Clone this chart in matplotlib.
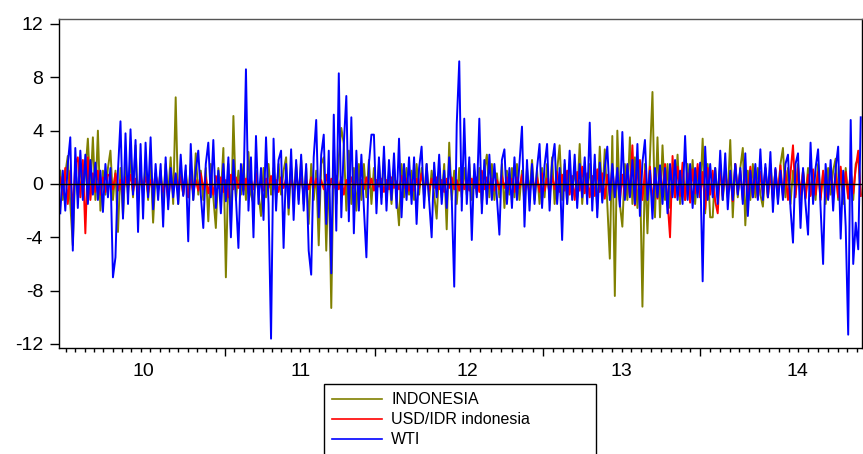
import numpy as np
import matplotlib.pyplot as plt
from matplotlib.lines import Line2D
from matplotlib.patches import Rectangle

plt.rcParams['font.family'] = ['Liberation Sans', 'DejaVu Sans']
plt.rcParams['axes.unicode_minus'] = False

indonesia = [
    1.0, -1.2, 0.8, 2.1, -1.5, -4.6, 1.2, -0.8, 1.5, -1.0, 0.9, 3.4, -0.6, 3.5, -1.2, 4.0, -2.0, 1.0, -0.8, 1.2,
    2.5, -1.2, 1.0, -3.6, 1.2, -2.4, 1.5, -0.8, 2.0, -1.0, 2.9, -1.5, 1.0, -0.8, 1.5, -1.2, 1.8, -2.9, 0.8, -0.5,
    1.0, -1.2, 1.5, -0.8, 2.0, -1.5, 6.5, -1.5, 1.2, -0.8, 1.0, -1.0, 1.5, -1.2, 2.3, -0.8, 1.0, -1.2, 1.2, -2.8,
    1.5, -1.0, -3.3, 1.2, -0.8, 2.7, -7.0, 1.5, -3.4, 5.1, -1.2, 1.0, -0.8, 1.5, -1.2, 2.4, -0.8, -1.5, 1.0, -0.8,
    -2.4, 1.2, -1.0, 1.5, -0.8, 1.2, -1.0, 1.5, -0.8, 1.0, 2.0, -2.3, 1.2, -1.0, 1.5, -1.2, 1.8, -1.5, 1.2, -3.0,
    1.5, -1.2, 1.0, -4.6, 1.5, 2.0, -5.0, 1.2, -9.3, 2.5, -1.5, 2.0, 4.2, 3.0, -2.0, 2.5, -1.5, 1.2, -2.0, 1.5,
    -1.2, 1.5, -1.0, 1.8, -1.5, 1.2, -0.8, 1.5, -1.0, 2.0, -1.2, 1.0, -1.5, 1.2, -0.8, -3.1, 1.5, -1.0, 1.2, -0.8,
    1.0, -1.2, 1.5, -0.8, 1.2, -1.0, 1.5, -1.2, 1.0, -0.8, -2.6, 1.2, -1.0, 1.5, -3.4, 3.1, -1.2, 1.0, -1.5, 1.2,
    -1.0, 1.2, -0.8, 1.5, -1.2, 1.0, -0.8, 1.2, -1.5, 1.0, 2.2, -1.0, 1.5, -1.2, 0.8, -1.0, 1.5, -1.8, 1.0, -0.8,
    1.2, -1.0, 1.5, -1.2, 1.0, -1.5, 1.2, -0.8, 1.8, -1.2, 1.0, -1.5, 1.2, -1.0, 1.5, -1.2, 2.0, -1.5, 1.0, 2.9,
    -1.2, 1.5, -1.5, 1.0, -0.8, 1.2, -1.0, 3.0, -1.5, 1.2, -1.0, 1.5, -1.2, 1.5, -1.9, 2.8, -1.2, 2.6, -1.5, -5.6,
    3.6, -8.4, 4.0, -1.5, -3.2, 1.5, -1.2, 3.5, -1.5, 2.0, -1.8, 1.2, -9.2, 1.5, -3.7, 2.0, 6.9, -2.5, 3.5, -2.5,
    2.9, -1.2, 1.5, -1.8, 1.2, -1.0, 2.2, -1.5, 1.0, -1.2, 1.5, -1.0, 1.8, -1.5, 1.2, -1.0, 3.4, -2.2, 1.5, -2.5,
    -2.5, 1.2, -1.0, 1.5, -1.2, 1.0, -0.8, 3.3, -2.5, 1.5, -1.0, 1.2, 2.7, -3.1, 1.0, -1.2, 1.5, -1.0, 1.2, -0.8,
    -1.7, 1.2, -1.0, 1.5, -0.8, 1.0, -1.2, 1.5, 2.7, -1.0, 1.2, -1.5, 1.0, -0.8, 1.5, -1.2, 1.0, -1.0, 1.2, -0.8,
    1.0, -1.2, 1.5, -1.0, 0.8, -1.5, 1.2, -0.8, 1.0, 1.9, -1.2, 1.0, -1.5, 1.2, -1.0, 0.8, -1.2, 1.5, 1.9, -0.8,
]

usd_idr = [
    0.5, -0.8, 1.2, -1.5, 1.0, -2.1, 1.5, 2.0, -1.0, 1.8, -3.7, 2.0, -1.2, 0.8, -0.6, 1.0, -0.8, 0.5, -0.6, 0.7,
    0.6, -0.4, 0.8, -0.5, 0.3, -0.9, 0.5, -0.3, 0.7, -0.6, 0.4, -0.8, 0.6, -0.2, 0.5, -0.7, 0.3, -0.5, 0.8, -0.4,
    0.5, -0.6, 0.3, -1.2, 0.4, -0.5, 0.7, -0.3, 0.5, -0.8, 0.6, -1.0, 0.4, -0.6, 0.3, -0.5, 0.8, -0.4, 0.5, -0.7,
    0.4, -0.8, 0.6, -0.3, 0.5, -0.6, 0.3, -1.0, 0.7, -0.4, 0.5, -0.3, 0.6, -0.5, 0.4, -0.7, 0.3, -0.4, 0.8, -0.6,
    0.3, -0.5, 0.4, -0.3, 0.6, -0.4, 0.3, -0.6, 0.5, -0.3, 0.4, -0.5, 0.3, -0.4, 0.6, -0.3, 0.4, -0.7, 0.3, -0.4,
    0.5, -0.3, 0.4, -0.6, 0.3, -0.4, 0.7, -0.5, 0.4, -0.3, 0.6, -0.4, 0.5, -0.8, 0.3, -0.4, 0.5, -0.3, 0.4, -0.5,
    0.3, -0.4, 0.5, -0.3, 0.4, -0.5, 0.3, -0.2, 0.4, -0.6, 0.3, -0.4, 0.5, -0.3, 0.2, -0.4, 0.6, -0.3, 0.4, -0.5,
    0.3, -0.5, 0.4, -0.3, 0.8, -0.4, 0.3, -0.5, 0.4, -0.3, 0.5, -0.4, 0.3, -0.6, 0.4, -0.3, 0.5, -0.4, 0.3, -0.5,
    0.6, -0.4, 0.3, -0.5, 0.4, -0.3, 0.5, -0.6, 1.0, -0.4, 0.5, -0.3, 0.4, -0.5, 0.3, -0.4, 0.6, -0.3, 0.5, -0.4,
    0.4, -0.6, 0.5, -0.3, 0.7, -0.5, 0.4, -0.8, 0.6, -0.4, 0.5, -0.6, 0.8, -0.5, 0.4, -0.7, 0.6, -0.4, 0.9, -0.6,
    0.7, -0.5, 1.0, -0.8, 0.6, -1.2, 0.9, -0.5, 1.3, -0.7, 0.8, -1.0, 0.6, -0.9, 1.1, -0.6, 0.8, -1.1, 0.7, -0.9,
    1.2, -0.8, 0.9, -1.3, 0.7, -1.0, 1.4, -0.9, 2.9, -1.6, 0.8, 1.8, -1.2, 1.0, -0.8, 1.3, -1.5, 0.9, -1.1, 1.2,
    -0.8, 1.5, -1.2, -4.0, 2.1, -1.0, 1.3, -0.9, 1.6, -1.2, 0.8, -1.4, 1.1, -0.7, 1.5, -1.0, 0.9, -1.9, 1.2, -0.8,
    1.0, -1.3, -2.2, 1.4, -0.9, 1.2, -1.0, 0.8, -1.3, 1.5, -0.7, 1.0, -1.2, 0.9, -0.8, 1.3, -1.0, 0.7, -1.1, 0.9,
    -0.8, 1.2, -1.0, 0.9, -1.3, 1.1, -0.7, 1.4, -0.9, 1.0, -1.2, 0.8, 2.9, -1.0, 1.2, -0.8, 1.0, -1.1, 0.7, -0.9,
    1.1, -0.8, 0.9, -1.2, 1.0, -0.7, -1.1, 1.2, -0.9, 0.8, -1.0, 1.3, -0.8, 0.9, -1.1, 1.0, -0.7, 1.2, 2.5, -0.9,
]

wti = [
    -2.2, 1.0, -2.0, 1.5, 3.5, -5.0, 2.7, -1.8, 2.5, -1.2, 2.2, -1.5, 1.8, -0.8, 1.6, -1.2, 1.0, -2.1, 1.5, -1.0,
    1.2, -7.0, -5.5, 1.0, 4.7, -2.6, 3.8, -1.5, 4.1, -0.8, 3.3, -3.6, 3.0, -2.6, 3.1, -1.0, 3.5, -1.9, 1.5, -1.2,
    1.5, -3.2, 2.0, -1.9, 1.2, -1.0, 0.8, -1.5, 2.2, -0.9, 1.4, -4.3, 3.0, -1.2, 1.0, 2.5, -0.8, -3.3, 1.5, 3.1,
    -1.0, 3.3, -1.8, 1.0, -2.2, 1.5, -1.3, 2.0, -4.0, 1.8, -1.0, -4.8, 1.5, -0.8, 8.6, -2.0, 2.0, -4.0, 3.6, -1.5,
    1.2, -2.7, 3.5, -1.5, -11.6, 3.4, -2.0, 1.8, 2.5, -4.8, 1.5, -1.8, 2.6, -2.7, 1.8, -1.5, 2.2, -2.0, 1.5, -5.0,
    -6.8, 2.0, 4.8, -2.5, 2.2, 3.7, -3.0, 2.5, -6.7, 5.2, -3.5, 8.3, -2.5, 3.0, 6.6, -2.8, 5.0, -3.7, 2.5, -2.0,
    2.2, -1.8, -5.5, 1.5, 3.7, 3.7, -2.2, 2.0, -1.5, 2.8, -2.0, 1.8, -1.2, 2.3, -1.8, 3.4, -2.5, 1.5, -1.2, 2.0,
    -1.5, 2.0, -3.0, 1.2, 2.8, -1.8, 1.5, -1.2, -4.0, 1.6, -1.0, 2.2, -1.5, 1.0, -1.8, 2.0, -1.0, -7.7, 4.5, 9.2,
    -2.0, 4.9, -1.5, 2.0, -4.2, 1.5, -1.0, 4.9, -2.2, 1.8, -1.5, 2.2, -1.2, 1.5, -1.0, -3.8, 1.8, 2.6, -1.5, 1.2,
    -1.8, 2.0, -1.2, 1.5, 4.3, -3.2, 1.8, -2.0, 1.5, -1.5, 1.2, 3.0, -1.8, 1.4, 3.0, -2.0, 1.6, 3.0, -1.5, 1.2,
    -4.2, 1.8, -1.5, 2.5, -1.2, 2.2, -1.8, 1.5, -1.0, 2.0, -1.5, 4.6, -2.0, 2.2, -2.5, 1.6, -1.4, 1.2, 2.8, -1.2,
    1.5, -1.0, 1.2, -1.7, 3.9, -1.2, 1.5, -1.0, 1.8, -1.5, 3.0, -2.4, 1.6, 3.3, -1.2, 1.0, -2.6, 1.2, -1.0, 1.4,
    -1.5, 1.2, -2.2, 1.5, -1.0, 1.8, -1.2, 1.0, -1.5, 3.6, -1.2, 1.5, -1.8, 1.2, -1.0, 1.6, -7.3, 2.8, -1.2, 1.5,
    -1.0, 1.2, -1.5, 2.5, -1.2, 2.3, -1.9, 1.0, -1.2, 1.5, -0.8, 1.2, -1.5, 2.3, -2.4, 1.0, -1.0, 1.5, -1.2, 2.6,
    -1.2, 1.5, -1.0, 2.4, -2.1, 1.2, -1.5, 1.0, -1.2, 1.5, 2.2, -1.8, -4.4, 1.5, 2.3, -3.3, 1.2, -1.5, -3.8, 3.1,
    -1.5, 1.2, 2.6, -1.8, -6.0, 1.5, -1.2, 1.8, -2.0, 1.2, 2.8, -4.1, 1.0, -3.2, -11.3, 4.8, -6.0, -2.9, -4.9, 5.0,
]

series_names = ['INDONESIA', 'USD/IDR indonesia', 'WTI']
series_colors = ['#808000', '#ff0000', '#0000ff']
year_labels = ['10', '11', '12', '13', '14']

# x axis layout in observation units: year boundaries and label centres
year_starts = [65.7, 125.4, 192.4, 255.0]
label_pos = [33.0, 95.6, 162.1, 223.5, 293.6]

W, H = 863, 454
fig = plt.figure(figsize=(W / 100, H / 100), dpi=100)
ax = fig.add_axes([59 / W, 1 - 348 / H, (862 - 59) / W, (348 - 19.3) / H])

x = np.arange(len(wti))
for vals, col in zip([indonesia, usd_idr, wti], series_colors):
    ax.plot(x, vals, color=col, lw=1.4)
ax.axhline(0, color='black', lw=1.0, zorder=5)

ax.set_xlim(-0.5, len(wti) - 0.5)
ax.set_ylim(-12.3, 12.35)
ax.set_yticks([-12, -8, -4, 0, 4, 8, 12])
ax.tick_params(axis='y', labelsize=14, length=6.5, width=1, pad=5)

# minor ticks: 16 per year, continued past the first/last boundary
minor = []
for a, b in zip(year_starts[:-1], year_starts[1:]):
    minor += list(np.linspace(a, b, 17)[1:-1])
step0 = (year_starts[1] - year_starts[0]) / 16
t = year_starts[0] - step0
while t > 0:
    minor.append(t)
    t -= step0
step1 = (year_starts[-1] - year_starts[-2]) / 16
t = year_starts[-1] + step1
while t < len(wti) - 1:
    minor.append(t)
    t += step1
ax.set_xticks(year_starts)
ax.set_xticklabels([])
ax.set_xticks(minor, minor=True)
ax.tick_params(axis='x', which='major', length=6, width=1)
ax.tick_params(axis='x', which='minor', length=3, width=1)
for pos, lab in zip(label_pos, year_labels):
    ax.text(pos, -0.073, lab, transform=ax.get_xaxis_transform(),
            ha='center', va='center', fontsize=14)

for sp in ax.spines.values():
    sp.set_linewidth(1.0)
ax.spines['top'].set_color('#555555')

# legend box below the plot (runs off the bottom edge)
fig.add_artist(Rectangle((324 / W, -0.1), 272 / W, 0.1 + (H - 384) / H,
                         transform=fig.transFigure, fill=False, ec='black', lw=1))
for k, (name, col) in enumerate(zip(series_names, series_colors)):
    yy = 1 - (399 + 20 * k) / H
    fig.add_artist(Line2D([332 / W, 382 / W], [yy, yy], color=col, lw=1.2,
                          transform=fig.transFigure))
    fig.text(391 / W, yy, name, fontsize=11.5, va='center', ha='left')

fig.savefig('out.png', dpi=100)
